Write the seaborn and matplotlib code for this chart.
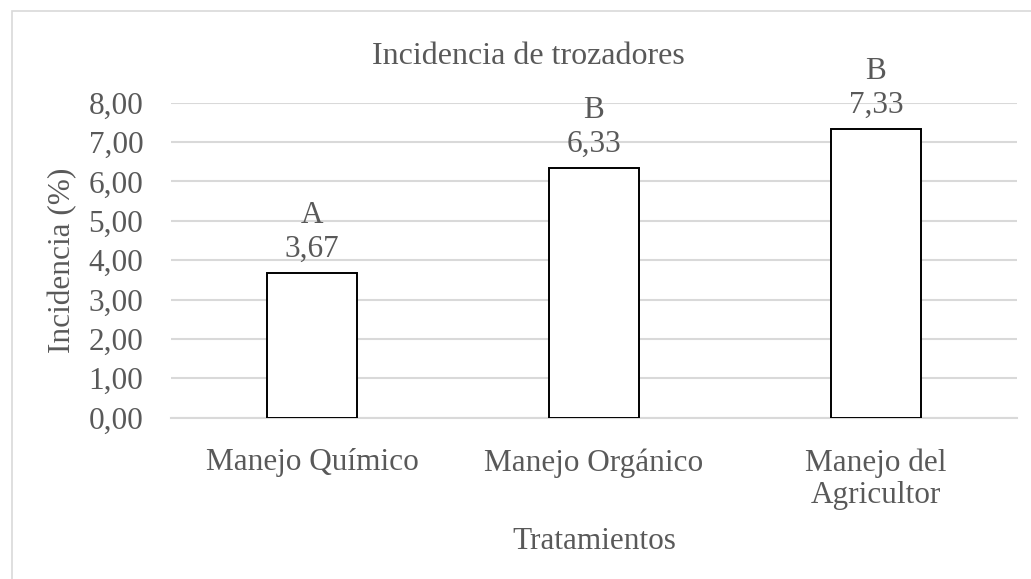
import matplotlib
matplotlib.use("Agg")
import matplotlib.pyplot as plt
import matplotlib.patches as mpatches
import numpy as np
import pandas as pd
import seaborn as sns

categories = ["Manejo Químico", "Manejo Orgánico", "Manejo del\nAgricultor"]
incidence = [3.67, 6.33, 7.33]
groups = ["A", "B", "B"]
y_ticks = [0, 1, 2, 3, 4, 5, 6, 7, 8]

sns.set_theme(style="white")
plt.rcParams["font.family"] = ["Liberation Serif", "DejaVu Serif"]
text_color = "#595959"
grid_color = "#d9d9d9"
fs = 22.5

df = pd.DataFrame({"tratamiento": categories, "incidencia": incidence})

fig = plt.figure(figsize=(10.31, 5.79), dpi=100)
ax = fig.add_axes([171 / 1031, 1 - 417.7 / 579, (1017 - 171) / 1031, (417.7 - 102.7) / 579])

sns.barplot(data=df, x="tratamiento", y="incidencia", ax=ax, color="white",
            edgecolor="black", linewidth=1.4, width=0.32, zorder=3)

ax.set_ylim(0, 8)
ax.set_xlim(-0.5, len(categories) - 0.5)
ax.set_yticks(y_ticks)
ax.set_yticklabels([f"{v:.2f}".replace(".", ",") for v in y_ticks])
ax.yaxis.grid(True, color=grid_color, linewidth=1.5, zorder=0)
ax.set_axisbelow(True)
for side in ["top", "right", "left"]:
    ax.spines[side].set_visible(False)
ax.spines["bottom"].set_color(grid_color)
ax.spines["bottom"].set_linewidth(1.5)
ax.tick_params(axis="both", length=0, labelsize=fs, colors=text_color)
ax.tick_params(axis="y", pad=20)
ax.tick_params(axis="x", pad=22)
for lbl in ax.get_xticklabels():
    lbl.set_linespacing(1.15)

for i, (v, g) in enumerate(zip(incidence, groups)):
    ax.annotate(f"{v:.2f}".replace(".", ","), (i, v), xytext=(0, 7), textcoords="offset points",
                ha="center", va="bottom", fontsize=fs, color=text_color, annotation_clip=False)
    ax.annotate(g, (i, v), xytext=(0, 31), textcoords="offset points",
                ha="center", va="bottom", fontsize=fs, color=text_color, annotation_clip=False)

ax.set_xlabel("Tratamientos", fontsize=fs, color=text_color, labelpad=12)
ax.set_ylabel("Incidencia (%)", fontsize=fs, color=text_color, labelpad=8)
fig.text(528 / 1031, 1 - 57 / 579, "Incidencia de trozadores", ha="center", va="center",
         fontsize=23, color=text_color)

border = mpatches.Rectangle((12 / 1031, -0.05), 1.2, 1 - 11 / 579 + 0.05, transform=fig.transFigure,
                            fill=False, edgecolor=grid_color, linewidth=1.2)
fig.patches.append(border)

fig.savefig("out.png", dpi=100)
plt.close(fig)
